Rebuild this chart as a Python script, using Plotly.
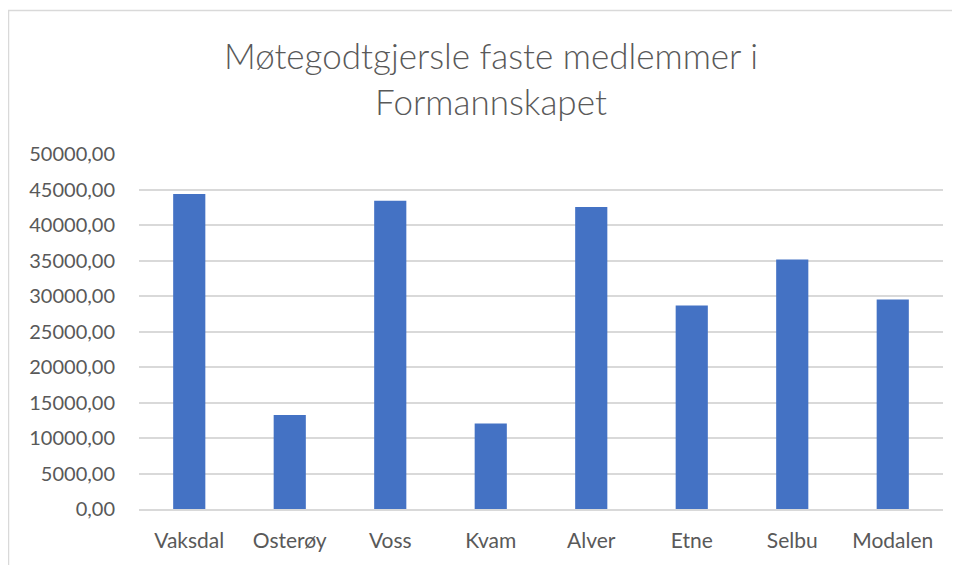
import plotly.graph_objects as go

kommuner = ["Vaksdal", "Osterøy", "Voss", "Kvam", "Alver", "Etne", "Selbu", "Modalen"]
godtgjersle = [44360, 13250, 43420, 12030, 42530, 28660, 35150, 29500]
y_ticks = [0, 5000, 10000, 15000, 20000, 25000, 30000, 35000, 40000, 45000, 50000]

# the page has an 8px body margin, so the layout is offset by that amount
W, H = 960, 565
L, R, T, B = 131, 25, 146, 64
pw, ph = W - L - R, H - T - B


def px_x(x):
    return (x - L) / pw


def px_y(y):
    return (H - B - y) / ph


fig = go.Figure(go.Bar(x=kommuner, y=godtgjersle, marker_color="#4472C4", marker_line_width=0))

# light grey chart border (screenshot crops the right/bottom edges)
fig.add_shape(type="rect", xref="paper", yref="paper",
              x0=px_x(0.5), x1=px_x(W + 20), y0=px_y(H + 20), y1=px_y(2.5),
              line=dict(color="#d9d9d9", width=1.5), fillcolor="rgba(0,0,0,0)", layer="below")

fig.add_annotation(text="Møtegodtgjersle faste medlemmer i<br>Formannskapet",
                   xref="paper", yref="paper", x=px_x(483), y=px_y(24),
                   xanchor="center", yanchor="top", showarrow=False,
                   font=dict(family="Lato", size=35, weight=300, color="#595959"))

fig.update_layout(
    width=W, height=H,
    margin=dict(l=L, r=R, t=T, b=B),
    paper_bgcolor="white", plot_bgcolor="white",
    separators=", ",
    bargap=0.68,
    showlegend=False,
    font=dict(family="Lato", color="#595959", size=21),
)
fig.update_yaxes(range=[0, 50000], tickvals=y_ticks, tickformat=".2f",
                 showgrid=True, gridcolor="#d9d9d9", gridwidth=1.5,
                 zeroline=False, showline=False, ticklabelstandoff=23,
                 tickfont=dict(size=20), automargin=False)
fig.update_xaxes(showline=True, linecolor="#d9d9d9", linewidth=1.5, ticks="",
                 ticklabelstandoff=12, automargin=False)

fig.write_html("out.html")
